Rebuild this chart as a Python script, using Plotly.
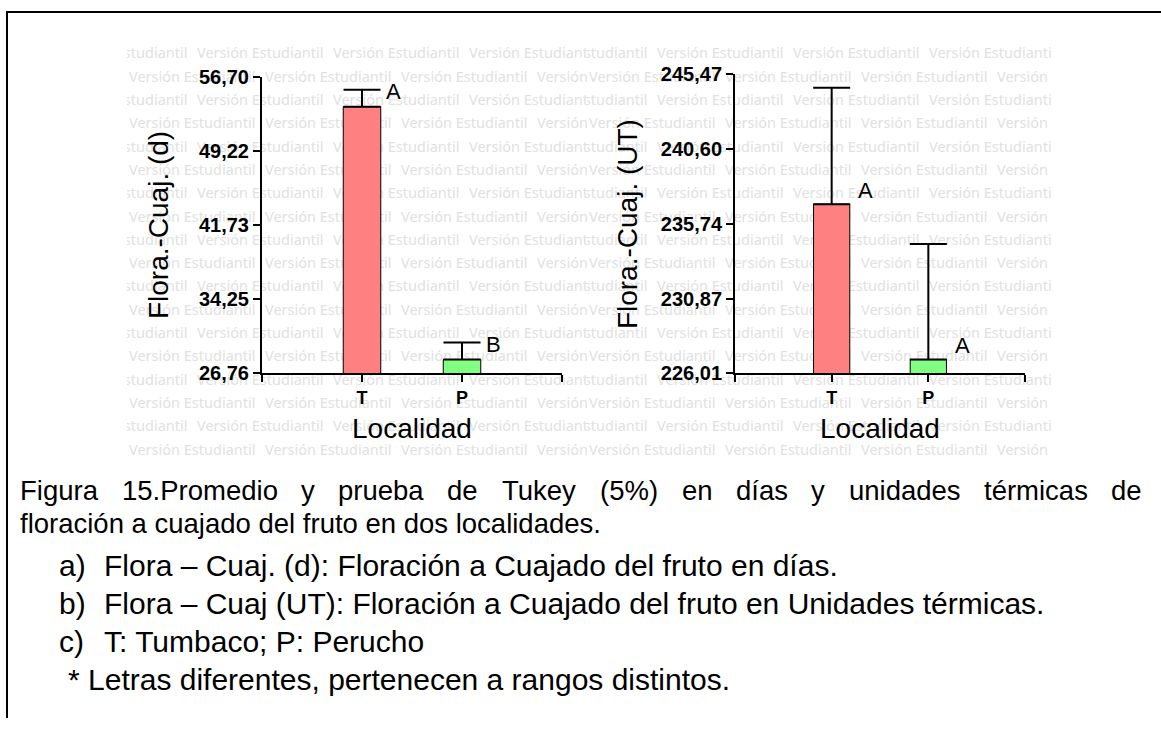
import plotly.graph_objects as go

W, H = 1161, 729

# ---- data ----
localidades = ["T", "P"]
dias_media = [53.68, 28.17]
dias_error = [1.71, 1.72]
dias_letras = ["A", "B"]
ut_media = [237.00, 226.91]
ut_error = [7.56, 7.50]
ut_letras = ["A", "A"]

dias_ticks = [26.76, 34.25, 41.73, 49.22, 56.70]
dias_ticktext = ["26,76", "34,25", "41,73", "49,22", "56,70"]
ut_ticks = [226.01, 230.87, 235.74, 240.60, 245.47]
ut_ticktext = ["226,01", "230,87", "235,74", "240,60", "245,47"]

bar_colors = ["#FF8080", "#80FF80"]

caption_l1 = "Figura 15.Promedio y prueba de Tukey (5%) en días y unidades térmicas de"
caption_l2 = "floración a cuajado del fruto en dos localidades."
items = [
    ("a)", "Flora – Cuaj. (d): Floración a Cuajado del fruto en días."),
    ("b)", "Flora – Cuaj (UT): Floración a Cuajado del fruto en Unidades térmicas."),
    ("c)", "T: Tumbaco; P: Perucho"),
]
nota = "* Letras diferentes, pertenecen a rangos distintos."

FONT = "Liberation Sans, Arial, sans-serif"

# page layout helpers: horizontal pixel -> paper x, vertical pixel -> paper y
TOP, SPAN = 8, 710


def px(x):
    return x / W


def py(y):
    return 1 - (y - TOP) / SPAN


fig = go.Figure()

# ---- "Versión Estudiantil" background pattern, one tile per panel ----
def watermark(xa, ya, x0, x1):
    xs, ys, ts = [], [], []
    for k in range(18):
        y = 52 + k * 23.4
        x = x0 + (2 if k % 2 else -66)
        while x < x1:
            xs.append(x)
            ys.append(y)
            ts.append("Versión Estudiantil")
            x += 136
    fig.add_trace(go.Scatter(
        x=xs, y=ys, text=ts, mode="text", textposition="middle right",
        textfont=dict(family="Noto Sans", size=14.5, color="#e1e1e1"),
        xaxis=xa, yaxis=ya, hoverinfo="skip", showlegend=False, cliponaxis=True,
    ))


watermark("x", "y", 127, 587)
watermark("x2", "y2", 587, 1052)

pos = list(range(1, len(localidades) + 1))


def add_panel(xa, ya, media, error):
    fig.add_trace(go.Bar(
        x=pos, y=media, width=0.375,
        marker=dict(color=bar_colors, line=dict(color="black", width=1)),
        error_y=dict(type="data", array=error, arrayminus=[0] * len(error),
                     symmetric=False, color="black", thickness=2, width=18.5),
        xaxis=xa, yaxis=ya, showlegend=False, hoverinfo="skip",
    ))


add_panel("x3", "y3", dias_media, dias_error)
add_panel("x4", "y4", ut_media, ut_error)

hidden = dict(visible=False, showgrid=False, zeroline=False, fixedrange=True)
tile_y = [458, 44]

xaxis_cat = dict(
    range=[0, 3], tickvals=[0] + pos + [3], ticktext=[""] + localidades + [""],
    showline=True, linewidth=2, linecolor="black", ticks="outside", ticklen=7,
    tickwidth=2, tickcolor="black", showgrid=False, zeroline=False,
    tickfont=dict(family=FONT, size=18, color="black", weight="bold"),
)
yaxis_val = dict(
    showline=True, linewidth=2, linecolor="black", ticks="outside", ticklen=7,
    tickwidth=2, tickcolor="black", showgrid=False, zeroline=False,
    tickfont=dict(family=FONT, size=20, color="black", weight="bold"),
)

fig.update_layout(
    width=W, height=H, margin=dict(l=0, r=0, t=0, b=0),
    paper_bgcolor="white", plot_bgcolor="rgba(0,0,0,0)",
    showlegend=False,
    xaxis=dict(domain=[px(127), px(587)], range=[127, 587], anchor="y", **hidden),
    yaxis=dict(domain=[py(458), py(44)], range=tile_y, anchor="x", **hidden),
    xaxis2=dict(domain=[px(587), px(1052)], range=[587, 1052], anchor="y2", **hidden),
    yaxis2=dict(domain=[py(458), py(44)], range=tile_y, anchor="x2", **hidden),
    xaxis3=dict(domain=[px(262), px(562)], anchor="y3", **xaxis_cat),
    yaxis3=dict(domain=[py(372), py(74)], anchor="x3", range=[dias_ticks[0], dias_ticks[-1]],
                tickvals=dias_ticks, ticktext=dias_ticktext, **yaxis_val),
    xaxis4=dict(domain=[px(735), px(1025)], anchor="y4", **xaxis_cat),
    yaxis4=dict(domain=[py(372), py(71)], anchor="x4", range=[ut_ticks[0], ut_ticks[-1]],
                tickvals=ut_ticks, ticktext=ut_ticktext, **yaxis_val),
)

ann = []
# axis titles
for x, y, t in [(158, 223, "Flora.-Cuaj. (d)"), (627, 222, "Flora.-Cuaj. (UT)")]:
    ann.append(dict(x=px(x), y=py(y), xref="paper", yref="paper", text=t, textangle=-90,
                    showarrow=False, xanchor="center", yanchor="middle",
                    font=dict(family=FONT, size=28, color="black")))
for x in (412, 880):
    ann.append(dict(x=px(x), y=py(427), xref="paper", yref="paper", text="Localidad",
                    showarrow=False, xanchor="center", yanchor="middle",
                    font=dict(family=FONT, size=28, color="black")))

# Tukey letters
for p, m, e, l in zip(pos, dias_media, dias_error, dias_letras):
    ann.append(dict(x=p + 0.22, y=m + e, xref="x3", yref="y3", text=l, showarrow=False,
                    xanchor="left", yanchor="middle", yshift=-2,
                    font=dict(family=FONT, size=22, color="black")))
for p, m, l in zip(pos, ut_media, ut_letras):
    ann.append(dict(x=p + 0.25, y=m + 0.9, xref="x4", yref="y4", text=l, showarrow=False,
                    xanchor="left", yanchor="middle",
                    font=dict(family=FONT, size=22, color="black")))

# caption: first line justified between x=18 and x=1140
ARIAL = {" ": 278, "F": 611, "i": 222, "g": 556, "u": 556, "r": 333, "a": 556, "1": 556,
         "5": 556, ".": 278, "P": 667, "o": 556, "m": 833, "e": 556, "d": 556, "y": 500,
         "p": 556, "b": 556, "T": 611, "k": 500, "(": 333, "%": 889, ")": 333, "n": 556,
         "í": 278, "s": 500, "t": 278, "é": 556, "c": 500}
CAP = 27.5
LIST = 30


def width(word):
    return sum(ARIAL.get(ch, 556) for ch in word) * CAP / 1000


words = caption_l1.split(" ")
total = sum(width(w) for w in words)
gap = (1140 - 18 - total) / (len(words) - 1)
x = 18
for w in words:
    ann.append(dict(x=px(x), y=py(490), xref="paper", yref="paper", text=w, showarrow=False,
                    xanchor="left", yanchor="middle", font=dict(family=FONT, size=CAP, color="black")))
    x += width(w) + gap
ann.append(dict(x=px(18), y=py(523), xref="paper", yref="paper", text=caption_l2, showarrow=False,
                xanchor="left", yanchor="middle", font=dict(family=FONT, size=CAP, color="black")))
for i, (lab, txt) in enumerate(items):
    yy = 565 + 38 * i
    ann.append(dict(x=px(57), y=py(yy), xref="paper", yref="paper", text=lab, showarrow=False,
                    xanchor="left", yanchor="middle", font=dict(family=FONT, size=LIST, color="black")))
    ann.append(dict(x=px(102), y=py(yy), xref="paper", yref="paper", text=txt, showarrow=False,
                    xanchor="left", yanchor="middle", font=dict(family=FONT, size=LIST, color="black")))
ann.append(dict(x=px(66), y=py(679), xref="paper", yref="paper", text=nota, showarrow=False,
                xanchor="left", yanchor="middle", font=dict(family=FONT, size=LIST, color="black")))

fig.update_layout(annotations=ann)

# frame: top and left rules
fig.update_layout(shapes=[
    dict(type="line", xref="paper", yref="paper", x0=px(7), x1=1, y0=py(9), y1=py(9),
         line=dict(color="black", width=2)),
    dict(type="line", xref="paper", yref="paper", x0=px(7), x1=px(7), y0=py(8), y1=0,
         line=dict(color="black", width=2)),
])

fig.write_html("out.html")
